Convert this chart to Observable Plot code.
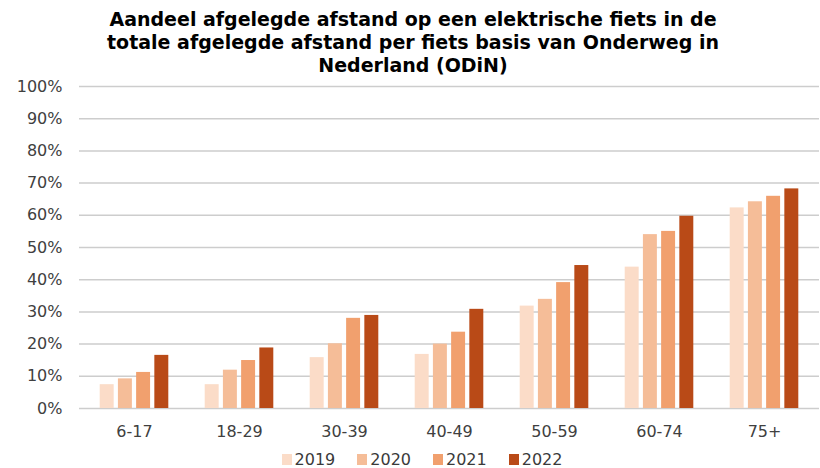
<!DOCTYPE html>
<html>
<head>
<meta charset="utf-8">
<script src="https://cdn.jsdelivr.net/npm/d3@7"></script>
<script src="https://cdn.jsdelivr.net/npm/@observablehq/plot@0.6"></script>
<style>
  body { margin: 0; background: #fff; width: 820px; height: 468px; overflow: hidden; }
  #title { font-family: "DejaVu Sans", sans-serif; font-weight: bold; font-size: 19px; line-height: 23px; text-align: center; color: #000; padding-top: 8px; height: 69px; padding-left: 6px; white-space: nowrap; }
  #legend { display: flex; justify-content: center; align-items: center; font-family: "DejaVu Sans", sans-serif; font-size: 16px; color: #3a3a3a; height: 20px; margin-left: 24px; }
  .item { display: flex; align-items: center; margin: 0 11px; }
  .sw { width: 10px; height: 11px; margin-right: 3px; }
</style>
</head>
<body>
<div id="title">Aandeel afgelegde afstand op een elektrische fiets in de<br>totale afgelegde afstand per fiets basis van Onderweg in<br>Nederland (ODiN)</div>
<div id="chart"></div>
<div id="legend"></div>
<script>
const categories = ["6-17", "18-29", "30-39", "40-49", "50-59", "60-74", "75+"];
const years = ["2019", "2020", "2021", "2022"];
const v2019 = [7.4, 7.4, 15.8, 16.8, 31.8, 43.9, 62.3];
const v2020 = [9.2, 11.9, 20.1, 20.0, 33.9, 54.0, 64.2];
const v2021 = [11.2, 14.9, 28.0, 23.7, 39.1, 55.0, 65.9];
const v2022 = [16.5, 18.8, 28.9, 30.8, 44.4, 59.7, 68.2];
const yTicks = [0, 10, 20, 30, 40, 50, 60, 70, 80, 90, 100];
const colors = ["#fbdcc8", "#f5bd98", "#f1a06e", "#b94a17"];

const series = [v2019, v2020, v2021, v2022];
const width = 820, marginLeft = 80, marginRight = 1;
const padInner = 0.31, padOuter = 0.155;
const step = (width - marginLeft - marginRight) / (categories.length - padInner + 2 * padOuter);
const bw = step * (1 - padInner);
const slot = bw / years.length;
const gap = 1.7;

const barMarks = series.map((vals, i) => Plot.barY(
  categories.map((c, j) => ({category: c, value: vals[j], year: years[i]})),
  {x: "category", y: "value", fill: colors[i],
   insetLeft: i * slot + gap, insetRight: (years.length - 1 - i) * slot + gap}
));

const chart = Plot.plot({
  width, height: 372,
  marginLeft, marginRight, marginTop: 9, marginBottom: 41,
  style: {fontFamily: "DejaVu Sans, sans-serif", fontSize: "16px", color: "#404040", background: "#fff"},
  x: {domain: categories, paddingInner: padInner, paddingOuter: padOuter, label: null, tickSize: 0, tickPadding: 17},
  y: {domain: [0, 100], ticks: yTicks, tickFormat: d => d + "%", label: null, tickSize: 0, tickPadding: 18},
  marks: [
    Plot.ruleY(yTicks, {stroke: "#cdcdcd", strokeWidth: 1.5, insetLeft: -1}),
    ...barMarks
  ]
});
document.getElementById("chart").appendChild(chart);

const legend = document.getElementById("legend");
years.forEach((y, i) => {
  const item = document.createElement("div");
  item.className = "item";
  const sw = document.createElement("div");
  sw.className = "sw";
  sw.style.background = colors[i];
  const t = document.createElement("span");
  t.textContent = y;
  item.appendChild(sw); item.appendChild(t);
  legend.appendChild(item);
});
</script>
</body>
</html>
